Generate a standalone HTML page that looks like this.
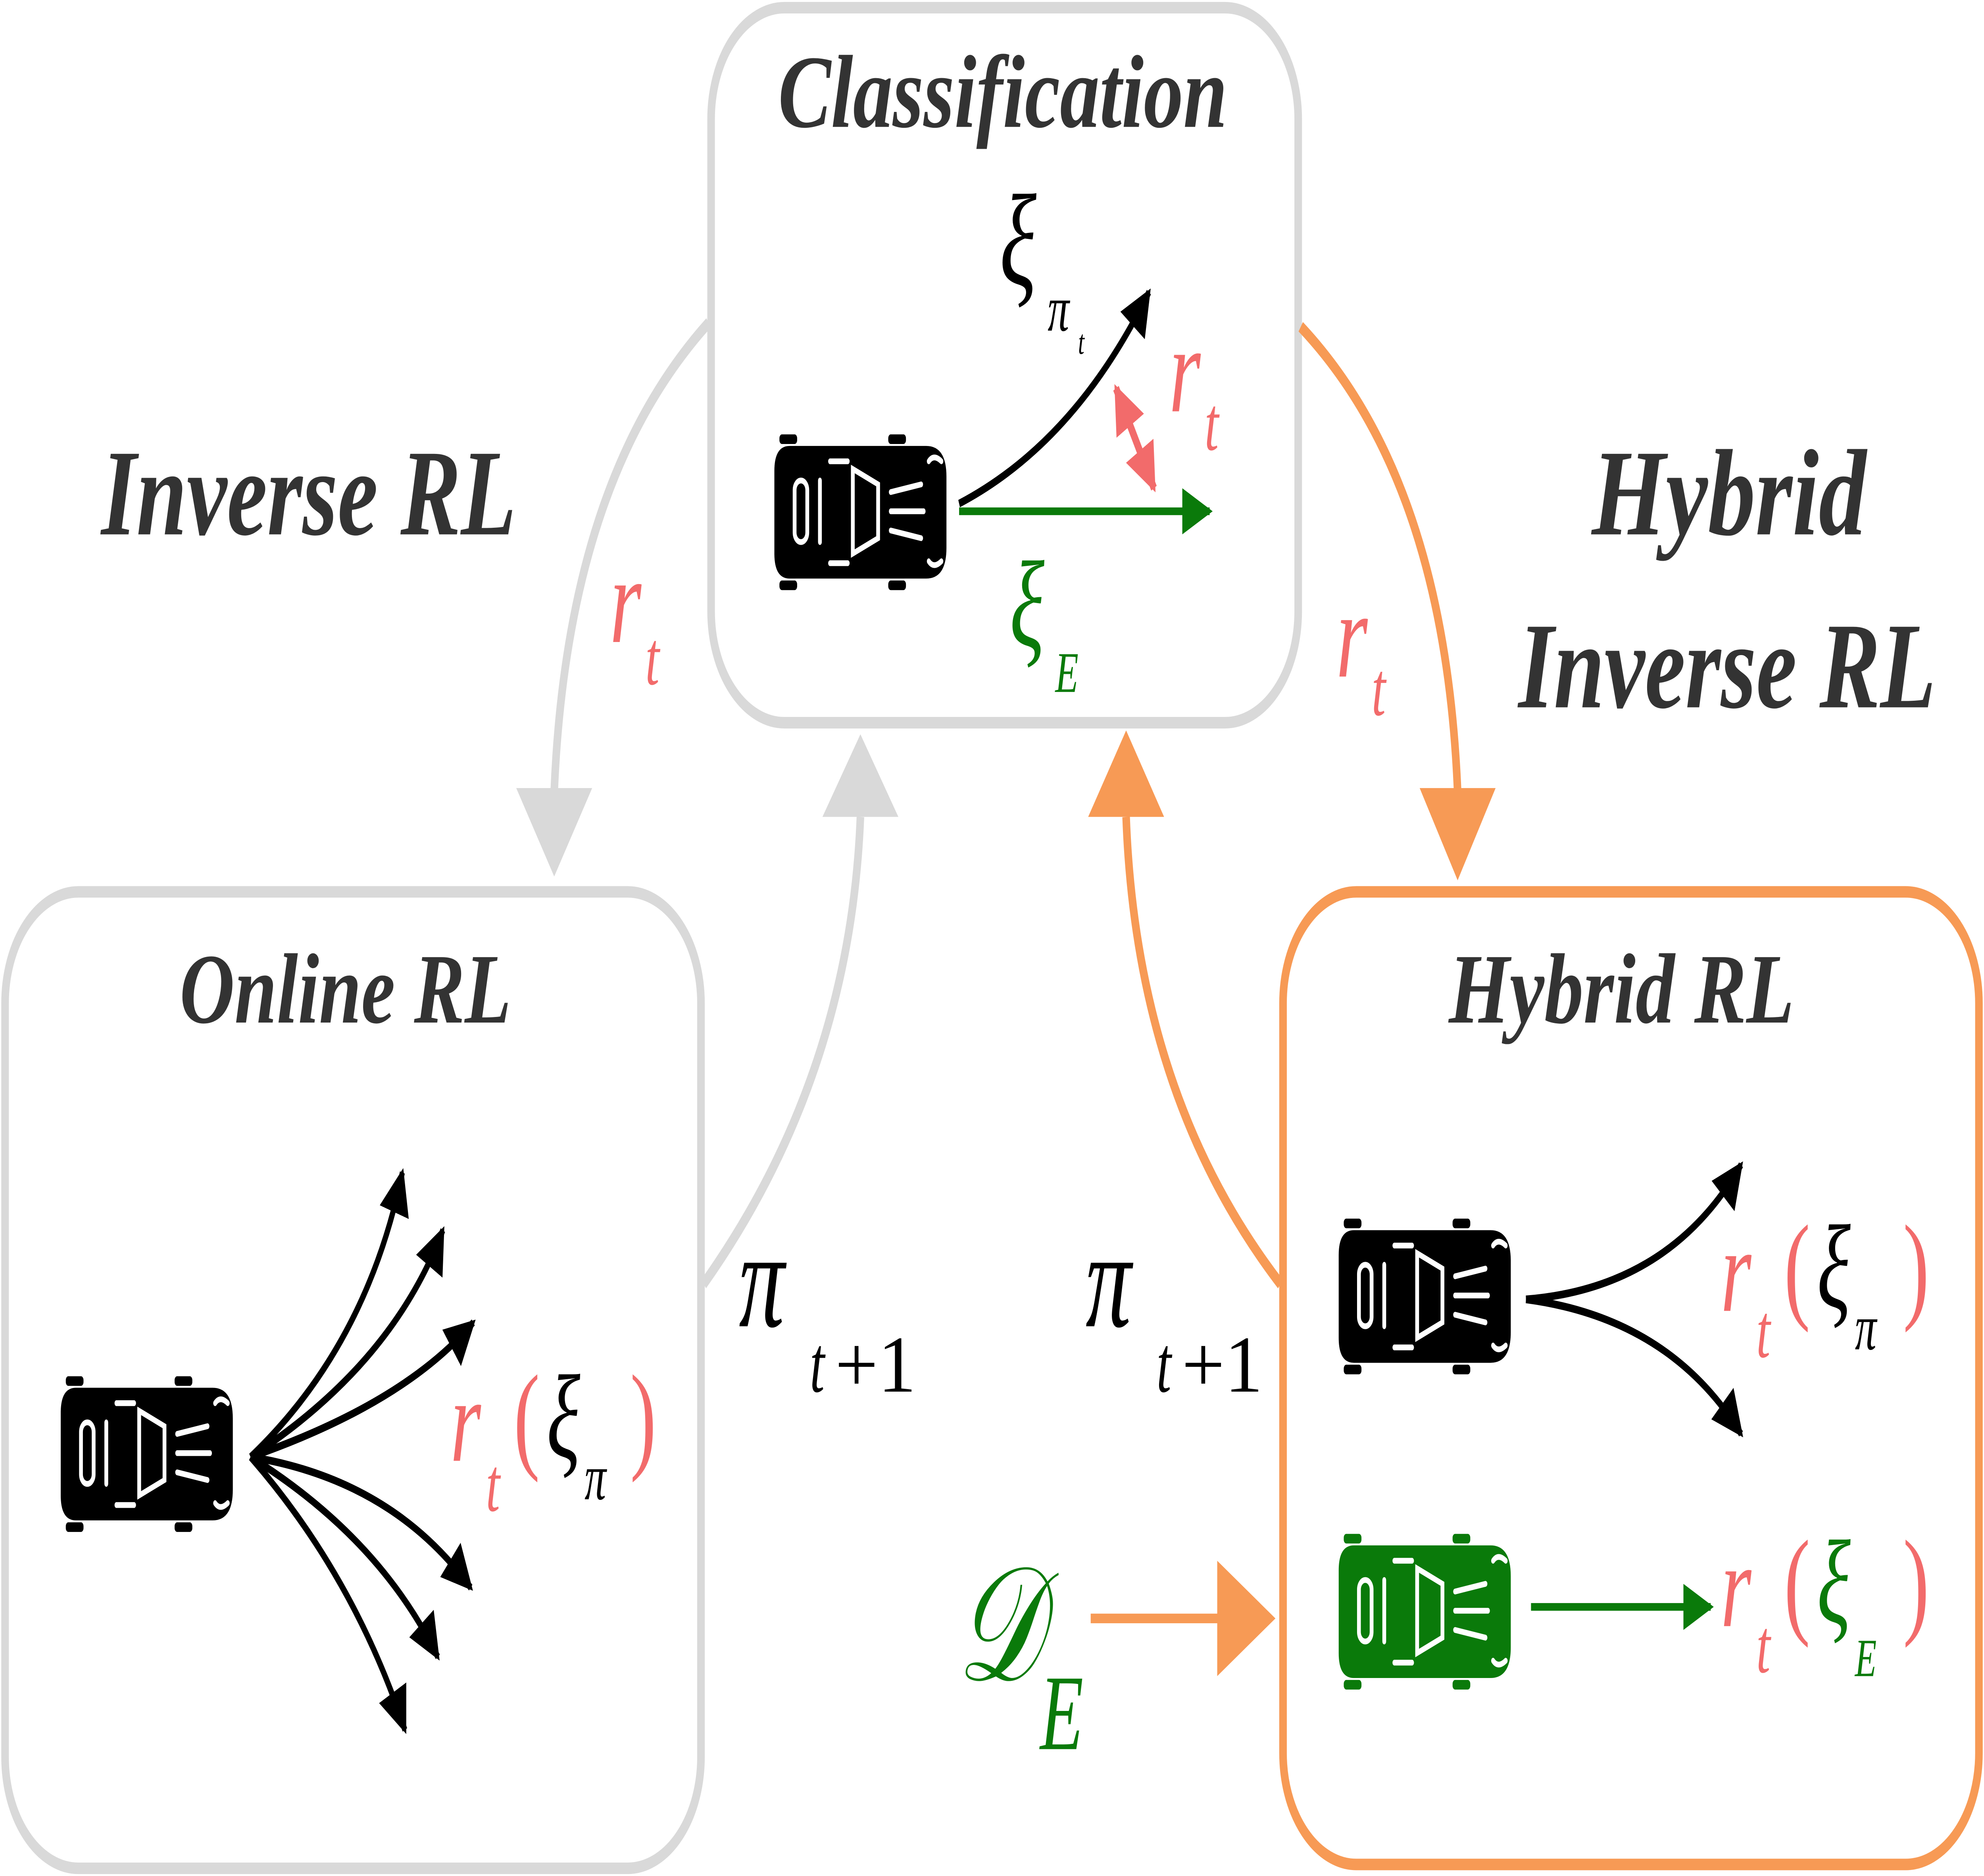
<!DOCTYPE html>
<html><head><meta charset="utf-8"><style>
html,body{margin:0;padding:0;background:#fff;width:100%;height:100%;overflow:hidden}
svg{display:block;position:fixed;left:0;top:0;width:100vw;height:100vh}
.lbl{font-family:"Liberation Serif",serif;font-style:italic;font-weight:bold;fill:#333}
.m{font-family:"Liberation Serif",serif;font-style:italic}
</style></head><body>
<svg viewBox="0 0 1568 976" preserveAspectRatio="none" xmlns="http://www.w3.org/2000/svg">
<defs>
<g id="car">
  <rect x="4" y="0" width="14" height="5" rx="2"/>
  <rect x="90" y="0" width="14" height="5" rx="2"/>
  <rect x="4" y="76" width="14" height="5" rx="2"/>
  <rect x="90" y="76" width="14" height="5" rx="2"/>
  <path d="M12 6 H120 Q136 6 136 22 V59 Q136 75 120 75 H12 Q0 75 0 62 V19 Q0 6 12 6 Z"/>
  <g fill="none" stroke="#fff" stroke-width="3" stroke-linecap="round">
    <rect x="16" y="24" width="10" height="32" rx="5"/>
    <path d="M36 24 V56"/>
    <path d="M62 18 L82 26 V54 L62 62 Z"/>
    <path d="M44 14 H58 M44 67 H58"/>
    <path d="M92 30 L116 26 M92 40 H118 M92 50 L116 54"/>
    <path d="M132 14 Q126 10 122 14 M132 66 Q126 70 122 66"/>
  </g>
</g>
<marker id="ab" viewBox="0 0 10 10" refX="9" refY="5" markerWidth="6" markerHeight="6" orient="auto"><path d="M0 0 L10 5 L0 10 Z" fill="#000"/></marker>
<marker id="ag" viewBox="0 0 10 10" refX="9" refY="5" markerWidth="6" markerHeight="6" orient="auto"><path d="M0 0 L10 5 L0 10 Z" fill="#0a7a0a"/></marker>
<marker id="ar" viewBox="0 0 10 10" refX="9" refY="5" markerWidth="5" markerHeight="5" orient="auto-start-reverse"><path d="M0 0 L10 5 L0 10 Z" fill="#f26b6b"/></marker>
</defs>

<rect x="562" y="4" width="464" height="372" rx="58" fill="#fff" stroke="#d9d9d9" stroke-width="6"/>
<rect x="4" y="464" width="550" height="508" rx="58" fill="#fff" stroke="#d9d9d9" stroke-width="6"/>
<rect x="1014" y="464" width="550" height="506" rx="58" fill="#fff" stroke="#f79a55" stroke-width="6"/>

<path d="M560 168 Q448 250 438 412" fill="none" stroke="#d9d9d9" stroke-width="6"/>
<path d="M408 410 L468 410 L438 456 Z" fill="#d9d9d9"/>
<path d="M556 668 Q672 560 680 425" fill="none" stroke="#d9d9d9" stroke-width="6"/>
<path d="M650 425 L710 425 L680 382 Z" fill="#d9d9d9"/>
<path d="M1028 170 Q1142 250 1152 412" fill="none" stroke="#f79a55" stroke-width="6"/>
<path d="M1122 410 L1182 410 L1152 458 Z" fill="#f79a55"/>
<path d="M1012 668 Q898 570 890 425" fill="none" stroke="#f79a55" stroke-width="6"/>
<path d="M860 425 L920 425 L890 380 Z" fill="#f79a55"/>
<path d="M862 842 H966" stroke="#f79a55" stroke-width="5"/>
<path d="M962 812 L1008 842 L962 872 Z" fill="#f79a55"/>

<text class="lbl" x="615" y="66" font-size="54" textLength="355" lengthAdjust="spacingAndGlyphs">Classification</text>
<text class="lbl" x="80" y="278" font-size="64" textLength="328" lengthAdjust="spacingAndGlyphs">Inverse RL</text>
<text class="lbl" x="1258" y="278" font-size="64" textLength="217" lengthAdjust="spacingAndGlyphs">Hybrid</text>
<text class="lbl" x="1200" y="368" font-size="64" textLength="330" lengthAdjust="spacingAndGlyphs">Inverse RL</text>
<text class="lbl" x="142" y="532" font-size="52" textLength="262" lengthAdjust="spacingAndGlyphs">Online RL</text>
<text class="lbl" x="1145" y="532" font-size="52" textLength="273" lengthAdjust="spacingAndGlyphs">Hybrid RL</text>

<use href="#car" x="612" y="226"/>
<path d="M758 262 Q850 230 908 152" fill="none" stroke="#000" stroke-width="4" marker-end="url(#ab)"/>
<path d="M758 266 H956" fill="none" stroke="#0a7a0a" stroke-width="4" marker-end="url(#ag)"/>
<path d="M882 202 L912 254" stroke="#f26b6b" stroke-width="5" marker-start="url(#ar)" marker-end="url(#ar)"/>
<text class="m" x="790" y="148" font-size="68">ξ</text>
<text class="m" x="828" y="172" font-size="34">π</text>
<text class="m" x="852" y="184" font-size="18">t</text>
<text class="m" x="924" y="214" font-size="64" fill="#f26b6b">r</text>
<text class="m" x="952" y="234" font-size="40" fill="#f26b6b">t</text>
<text class="m" x="798" y="336" font-size="64" fill="#0a7a0a">ξ</text>
<text class="m" x="834" y="360" font-size="30" fill="#0a7a0a">E</text>

<text class="m" x="482" y="334" font-size="64" fill="#f26b6b">r</text>
<text class="m" x="510" y="356" font-size="40" fill="#f26b6b">t</text>
<text class="m" x="1056" y="352" font-size="64" fill="#f26b6b">r</text>
<text class="m" x="1084" y="372" font-size="40" fill="#f26b6b">t</text>
<text class="m" x="584" y="690" font-size="72">π</text>
<text class="m" x="640" y="724" font-size="42">t</text><text x="660" y="724" font-size="42" font-family="Liberation Serif" textLength="64" lengthAdjust="spacingAndGlyphs">+1</text>
<text class="m" x="858" y="690" font-size="72">π</text>
<text class="m" x="914" y="724" font-size="42">t</text><text x="934" y="724" font-size="42" font-family="Liberation Serif" textLength="64" lengthAdjust="spacingAndGlyphs">+1</text>
<text x="756" y="874" font-size="84" fill="#0a7a0a" font-family="Liberation Serif" font-style="italic">𝒟</text>
<text class="m" x="822" y="910" font-size="56" fill="#0a7a0a">E</text>

<use href="#car" x="48" y="716"/>
<g fill="none" stroke="#000" stroke-width="4" marker-end="url(#ab)">
<path d="M198 758 Q290 700 318 610"/>
<path d="M198 758 Q310 710 350 640"/>
<path d="M198 758 Q320 730 374 688"/>
<path d="M198 758 Q310 770 372 826"/>
<path d="M198 758 Q300 800 346 862"/>
<path d="M198 758 Q280 820 320 900"/>
</g>
<text class="m" x="356" y="760" font-size="62" fill="#f26b6b">r</text>
<text class="m" x="384" y="786" font-size="40" fill="#f26b6b">t</text>
<text x="406" y="758" font-size="62" fill="#f26b6b" font-family="Liberation Serif">(</text>
<text class="m" x="432" y="758" font-size="62">ξ</text>
<text class="m" x="462" y="780" font-size="34">π</text>
<text x="498" y="758" font-size="62" fill="#f26b6b" font-family="Liberation Serif">)</text>

<use href="#car" x="1058" y="634"/>
<g style="fill:#0a7a0a"><use href="#car" x="1058" y="798"/></g>
<g fill="none" stroke="#000" stroke-width="4" marker-end="url(#ab)">
<path d="M1206 676 Q1320 670 1376 606"/>
<path d="M1206 676 Q1320 686 1376 746"/>
</g>
<path d="M1210 836 H1352" stroke="#0a7a0a" stroke-width="4" marker-end="url(#ag)"/>
<text class="m" x="1360" y="682" font-size="62" fill="#f26b6b">r</text>
<text class="m" x="1388" y="706" font-size="40" fill="#f26b6b">t</text>
<text x="1410" y="680" font-size="62" fill="#f26b6b" font-family="Liberation Serif">(</text>
<text class="m" x="1436" y="680" font-size="62">ξ</text>
<text class="m" x="1466" y="702" font-size="34">π</text>
<text x="1504" y="680" font-size="62" fill="#f26b6b" font-family="Liberation Serif">)</text>
<text class="m" x="1360" y="846" font-size="62" fill="#f26b6b">r</text>
<text class="m" x="1388" y="870" font-size="40" fill="#f26b6b">t</text>
<text x="1410" y="844" font-size="62" fill="#f26b6b" font-family="Liberation Serif">(</text>
<text class="m" x="1436" y="844" font-size="62" fill="#0a7a0a">ξ</text>
<text class="m" x="1466" y="872" font-size="28" fill="#0a7a0a">E</text>
<text x="1504" y="844" font-size="62" fill="#f26b6b" font-family="Liberation Serif">)</text>
</svg>
</body></html>
